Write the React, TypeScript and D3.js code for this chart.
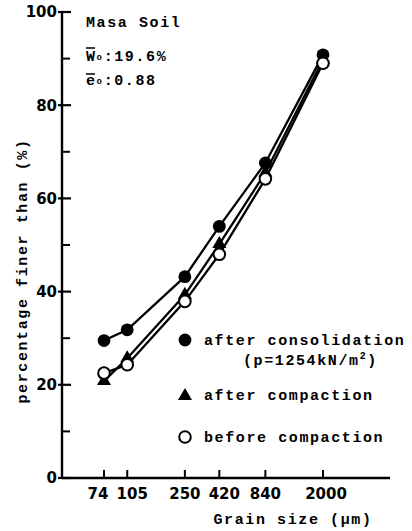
import React from "react";
import * as d3 from "d3";

// grain sizes (µm) and percentage finer for each state
const grainSizes = [74, 105, 250, 420, 840, 2000];
const afterConsolidation = [29.5, 31.8, 43.2, 54, 67.6, 90.8];
const afterCompaction = [20.8, 25.7, 39.3, 50.2, 65.5, 89.8];
const beforeCompaction = [22.5, 24.3, 37.9, 48, 64.2, 89];

const yMajorTicks = [0, 20, 40, 60, 80, 100];
const yMinorTicks = [10, 30, 50, 70, 90];

const width = 412;
const height = 531;
const mono = "'Liberation Mono', 'DejaVu Sans Mono', monospace";
const sans = "'DejaVu Sans', 'Liberation Sans', sans-serif";

// small nudges so the crowded tick labels don't touch
const labelNudge = (g: number) => (g === 74 ? -6 : g === 105 ? 5 : g === 420 ? 5 : g === 2000 ? 3 : 0);

export default function App() {
  const x = d3.scaleLog().domain([74, 2000]).range([104, 323]);
  const y = d3.scaleLinear().domain([0, 100]).range([478, 12]);
  const axisLeft = 62;
  const axisRight = 390;

  const line = d3
    .line<number>()
    .x((_, i) => x(grainSizes[i]))
    .y((d) => y(d));

  const tri = d3.symbol().type(d3.symbolTriangle).size(85)();

  const labelStyle = { fontFamily: mono, fontWeight: 700, fontSize: 15, letterSpacing: 1.6 };

  return (
    <svg
      width={width}
      height={height}
      style={{ position: "absolute", left: 0, top: 0, background: "#fff" }}
    >
      {/* axes */}
      <g stroke="#000" strokeWidth={2.4}>
        <line x1={axisLeft} x2={axisLeft} y1={y(100)} y2={y(0) + 1} />
        <line x1={axisLeft} x2={axisRight} y1={y(0)} y2={y(0)} />
      </g>
      {yMajorTicks.map((t) => (
        <g key={t}>
          <line x1={axisLeft - 4} x2={axisLeft + 9} y1={y(t)} y2={y(t)} stroke="#000" strokeWidth={2.2} />
          <text
            x={axisLeft - 5}
            y={y(t)}
            dy="0.36em"
            textAnchor="end"
            fontFamily={sans}
            fontWeight={700}
            fontSize={15}
          >
            {t}
          </text>
        </g>
      ))}
      {yMinorTicks.map((t) => (
        <line key={t} x1={axisLeft} x2={axisLeft + 8} y1={y(t)} y2={y(t)} stroke="#000" strokeWidth={2} />
      ))}
      {grainSizes.map((g) => (
        <g key={g}>
          <line x1={x(g)} x2={x(g)} y1={y(0)} y2={y(0) - 8} stroke="#000" strokeWidth={2} />
          <text
            x={x(g) + labelNudge(g)}
            y={499}
            textAnchor="middle"
            fontFamily={sans}
            fontWeight={700}
            fontSize={15}
          >
            {g}
          </text>
        </g>
      ))}

      {/* axis titles */}
      <text x={293} y={524} textAnchor="middle" {...labelStyle}>
        Grain size (µm)
      </text>
      <text
        transform={`translate(27,271) rotate(-90)`}
        textAnchor="middle"
        {...labelStyle}
      >
        percentage finer than (%)
      </text>

      {/* annotations */}
      <text x={86} y={27} {...labelStyle}>
        Masa Soil
      </text>
      <text x={86} y={61} {...labelStyle}>
        <tspan>W</tspan>
        <tspan fontSize={9} dy={-1}>o</tspan>
        <tspan dy={1}>:19.6%</tspan>
      </text>
      <line x1={86} x2={95} y1={48} y2={48} stroke="#000" strokeWidth={1.5} />
      <text x={86} y={85} {...labelStyle}>
        <tspan>e</tspan>
        <tspan fontSize={9} dy={-1}>o</tspan>
        <tspan dy={1}>:0.88</tspan>
      </text>
      <line x1={86} x2={95} y1={74} y2={74} stroke="#000" strokeWidth={1.5} />

      {/* series lines */}
      <g fill="none" stroke="#000" strokeWidth={2.3}>
        <path d={line(afterConsolidation) ?? ""} />
        <path d={line(afterCompaction) ?? ""} />
        <path d={line(beforeCompaction) ?? ""} />
      </g>

      {/* markers */}
      {afterCompaction.map((v, i) => (
        <path key={`t${i}`} d={tri ?? ""} transform={`translate(${x(grainSizes[i])},${y(v)})`} fill="#000" />
      ))}
      {afterConsolidation.map((v, i) => (
        <circle key={`c${i}`} cx={x(grainSizes[i])} cy={y(v)} r={6.4} fill="#000" />
      ))}
      {beforeCompaction.map((v, i) => (
        <circle
          key={`o${i}`}
          cx={x(grainSizes[i])}
          cy={y(v)}
          r={5.8}
          fill="#fff"
          stroke="#000"
          strokeWidth={2}
        />
      ))}

      {/* legend */}
      <circle cx={185} cy={340} r={6.4} fill="#000" />
      <text x={204} y={345} {...labelStyle}>
        after consolidation
      </text>
      <text x={243} y={365} {...labelStyle}>
        (p=1254kN/m<tspan fontSize={10} dy={-6}>2</tspan>
        <tspan dy={6}>)</tspan>
      </text>
      <path d={tri ?? ""} transform="translate(185,396)" fill="#000" />
      <text x={204} y={400} {...labelStyle}>
        after compaction
      </text>
      <circle cx={185} cy={437} r={5.8} fill="#fff" stroke="#000" strokeWidth={2} />
      <text x={204} y={442} {...labelStyle}>
        before compaction
      </text>
    </svg>
  );
}
